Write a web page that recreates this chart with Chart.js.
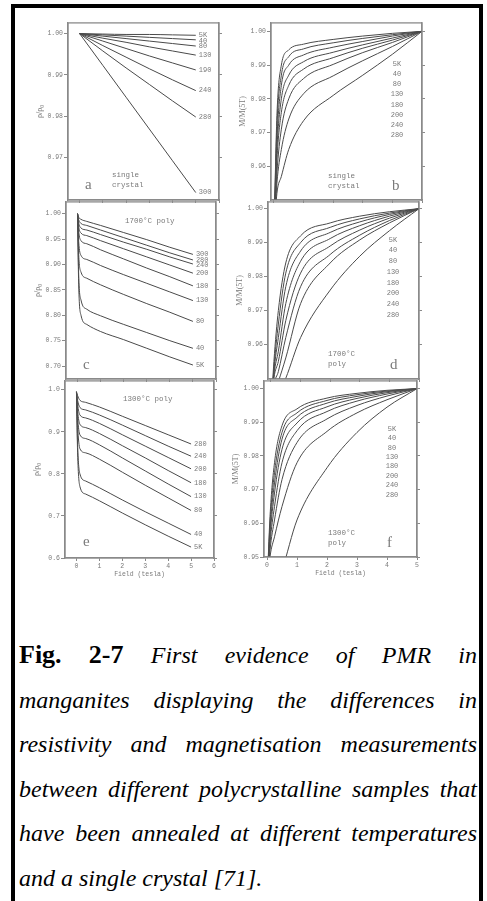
<!DOCTYPE html>
<html>
<head>
<meta charset="utf-8">
<script src="https://cdn.jsdelivr.net/npm/chart.js@4.4.0/dist/chart.umd.min.js"></script>
<style>
  body { margin: 0; background: #fff; width: 487px; height: 901px; overflow: hidden; position: relative; }
  .frame { position: absolute; left: 11px; top: 4px; width: 464px; height: 960px; border: 4px solid #000; border-bottom: none; }
  canvas.panel { position: absolute; filter: blur(0.35px); }
  .cap { position: absolute; left: 19px; width: 458px; top: 633px; font-family: "Liberation Serif", "Times New Roman", serif;
         font-size: 24px; line-height: 44.6px; font-style: italic; color: #000; }
  .cap .ln { text-align: justify; text-align-last: justify; }
  .cap .ln.last { text-align: left; text-align-last: left; }
  .cap b { font-style: normal; font-size: 26px; }
</style>
</head>
<body>
<div class="frame"></div>
<div class="cap">
  <div class="ln"><b>Fig.</b> <b>2-7</b> First evidence of PMR in</div>
  <div class="ln">manganites displaying the differences in</div>
  <div class="ln">resistivity and magnetisation measurements</div>
  <div class="ln">between different polycrystalline samples that</div>
  <div class="ln">have been annealed at different temperatures</div>
  <div class="ln last">and a single crystal [71].</div>
</div>

<script>
    const fieldA = [0, 1, 2, 3, 4, 5]
    const fieldPoly = [0, 0.05, 0.15, 0.4, 1, 2, 3, 4, 5]
    const fieldM = [0, 0.1, 0.25, 0.5, 1, 2, 3, 4, 5]

    const ticksLeftX = [0, 1, 2, 3, 4, 5, 6]
    const ticksRightX = [0, 1, 2, 3, 4, 5]

    // (a) single crystal, rho/rho0
    const tempsA = ['5K', '40', '80', '130', '190', '240', '280', '300']
    const rhoA = [
        [1.0000, 0.9999, 0.9998, 0.9998, 0.9997, 0.9996],
        [1.0000, 0.9997, 0.9994, 0.9991, 0.9988, 0.9985],
        [1.0000, 0.9994, 0.9988, 0.9982, 0.9976, 0.9970],
        [1.0000, 0.9989, 0.9979, 0.9968, 0.9958, 0.9948],
        [1.0000, 0.9982, 0.9964, 0.9946, 0.9929, 0.9912],
        [1.0000, 0.9971, 0.9943, 0.9915, 0.9888, 0.9862],
        [1.0000, 0.9958, 0.9917, 0.9877, 0.9837, 0.9798],
        [1.0000, 0.9923, 0.9846, 0.9769, 0.9692, 0.9615]
    ]
    const ticksA = [0.97, 0.98, 0.99, 1.00]

    // (b) single crystal, M/M(5T)
    const tempsB = ['5K', '40', '80', '130', '180', '200', '240', '280']
    const magB = [
        [0.940, 0.975, 0.990, 0.9945, 0.9962, 0.9976, 0.9986, 0.9994, 1.000],
        [0.940, 0.972, 0.987, 0.9925, 0.9948, 0.9966, 0.9979, 0.9990, 1.000],
        [0.940, 0.968, 0.984, 0.9900, 0.9930, 0.9953, 0.9970, 0.9986, 1.000],
        [0.940, 0.965, 0.980, 0.9870, 0.9910, 0.9938, 0.9960, 0.9980, 1.000],
        [0.940, 0.962, 0.976, 0.9840, 0.9888, 0.9922, 0.9950, 0.9974, 1.000],
        [0.940, 0.958, 0.971, 0.9800, 0.9860, 0.9902, 0.9937, 0.9967, 1.000],
        [0.940, 0.955, 0.965, 0.9740, 0.9815, 0.9868, 0.9913, 0.9955, 1.000],
        [0.940, 0.952, 0.957, 0.9650, 0.9735, 0.9810, 0.9870, 0.9932, 1.000]
    ]
    const ticksB = [0.96, 0.97, 0.98, 0.99, 1.00]

    // (c) 1700C poly, rho/rho0
    const tempsC = ['300', '280', '240', '200', '180', '130', '80', '40', '5K']
    const rhoC = [
        [1.000, 0.993, 0.989, 0.985, 0.977, 0.963, 0.949, 0.934, 0.920],
        [1.000, 0.988, 0.981, 0.977, 0.968, 0.953, 0.938, 0.923, 0.909],
        [1.000, 0.982, 0.972, 0.968, 0.959, 0.944, 0.930, 0.915, 0.901],
        [1.000, 0.975, 0.962, 0.957, 0.947, 0.931, 0.915, 0.899, 0.883],
        [1.000, 0.965, 0.947, 0.941, 0.929, 0.911, 0.893, 0.876, 0.858],
        [1.000, 0.945, 0.918, 0.910, 0.898, 0.880, 0.863, 0.846, 0.829],
        [1.000, 0.920, 0.885, 0.873, 0.860, 0.841, 0.823, 0.806, 0.788],
        [1.000, 0.880, 0.830, 0.812, 0.799, 0.782, 0.766, 0.750, 0.735],
        [1.000, 0.860, 0.800, 0.782, 0.768, 0.752, 0.735, 0.718, 0.702]
    ]
    const ticksC = [0.70, 0.75, 0.80, 0.85, 0.90, 0.95, 1.00]

    // (d) 1700C poly, M/M(5T)
    const tempsD = ['5K', '40', '80', '130', '180', '200', '240', '280']
    const magD = [
        [0.940, 0.955, 0.970, 0.984, 0.9920, 0.9958, 0.9978, 0.9991, 1.000],
        [0.940, 0.953, 0.966, 0.981, 0.9900, 0.9945, 0.9970, 0.9987, 1.000],
        [0.940, 0.952, 0.962, 0.977, 0.9875, 0.9930, 0.9961, 0.9983, 1.000],
        [0.940, 0.951, 0.958, 0.972, 0.9845, 0.9912, 0.9950, 0.9978, 1.000],
        [0.940, 0.950, 0.955, 0.967, 0.9810, 0.9890, 0.9937, 0.9972, 1.000],
        [0.940, 0.948, 0.952, 0.962, 0.9770, 0.9865, 0.9922, 0.9965, 1.000],
        [0.940, 0.945, 0.949, 0.956, 0.9720, 0.9840, 0.9908, 0.9958, 1.000],
        [0.940, 0.942, 0.945, 0.950, 0.9620, 0.9760, 0.9860, 0.9935, 1.000]
    ]
    const ticksD = [0.96, 0.97, 0.98, 0.99, 1.00]

    // (e) 1300C poly, rho/rho0
    const tempsE = ['280', '240', '200', '180', '130', '80', '40', '5K']
    const rhoE = [
        [0.995, 0.986, 0.975, 0.970, 0.959, 0.937, 0.915, 0.893, 0.871],
        [0.995, 0.975, 0.958, 0.952, 0.940, 0.916, 0.891, 0.866, 0.842],
        [0.995, 0.965, 0.940, 0.933, 0.920, 0.893, 0.866, 0.839, 0.812],
        [0.995, 0.950, 0.918, 0.910, 0.896, 0.867, 0.838, 0.808, 0.779],
        [0.995, 0.935, 0.893, 0.884, 0.869, 0.838, 0.807, 0.776, 0.746],
        [0.995, 0.915, 0.860, 0.850, 0.835, 0.804, 0.773, 0.743, 0.713],
        [0.995, 0.870, 0.800, 0.783, 0.767, 0.738, 0.710, 0.683, 0.656],
        [0.995, 0.850, 0.770, 0.752, 0.736, 0.707, 0.679, 0.652, 0.626]
    ]
    const ticksE = [0.6, 0.7, 0.8, 0.9, 1.0]

    // (f) 1300C poly, M/M(5T)
    const tempsF = ['5K', '40', '80', '130', '180', '200', '240', '280']
    const magF = [
        [0.940, 0.962, 0.978, 0.989, 0.9940, 0.9972, 0.9986, 0.9995, 1.000],
        [0.940, 0.960, 0.975, 0.987, 0.9928, 0.9965, 0.9982, 0.9993, 1.000],
        [0.940, 0.958, 0.972, 0.985, 0.9915, 0.9957, 0.9977, 0.9991, 1.000],
        [0.940, 0.956, 0.969, 0.982, 0.9898, 0.9946, 0.9971, 0.9988, 1.000],
        [0.940, 0.954, 0.965, 0.978, 0.9875, 0.9932, 0.9963, 0.9984, 1.000],
        [0.940, 0.952, 0.961, 0.973, 0.9840, 0.9910, 0.9950, 0.9978, 1.000],
        [0.940, 0.950, 0.956, 0.965, 0.9780, 0.9873, 0.9928, 0.9967, 1.000],
        [0.930, 0.935, 0.940, 0.946, 0.9610, 0.9765, 0.9870, 0.9945, 1.000]
    ]
    const ticksF = [0.95, 0.96, 0.97, 0.98, 0.99, 1.00]

    const lineColor = '#4a4a4a'
    const axisColor = '#8a8a8a'
    const textColor = '#7a7a7a'
    const monoFont = '"Liberation Mono", "DejaVu Sans Mono", monospace'

    // draws frame, temperature labels and the little notes in a panel
    function textPlugin(cfg) {
        return {
            id: 'panelText',
            afterDraw(chart) {
                const ctx = chart.ctx
                const area = chart.chartArea
                const xs = chart.scales.x
                const ys = chart.scales.y
                ctx.save()
                ctx.strokeStyle = axisColor
                ctx.lineWidth = 1.3
                ctx.strokeRect(area.left, area.top, area.right - area.left, area.bottom - area.top)
                ctx.fillStyle = textColor
                ctx.font = '7px ' + monoFont
                ctx.textBaseline = 'middle'
                if (cfg.labelCol) {
                    ctx.textAlign = 'center'
                    cfg.temps.forEach((t, i) => {
                        ctx.fillText(t, area.left + cfg.labelCol.dx, area.top + cfg.labelCol.dy + i * cfg.labelCol.step)
                    })
                } else {
                    let ends = cfg.series.map((s, i) => ({ t: cfg.temps[i], y: ys.getPixelForValue(s[s.length - 1]) }))
                    ends.sort((p, q) => p.y - q.y)
                    for (let i = 1; i < ends.length; i++) {
                        if (ends[i].y < ends[i - 1].y + 5.5) ends[i].y = ends[i - 1].y + 5.5
                    }
                    const lx = xs.getPixelForValue(cfg.x[cfg.x.length - 1]) + 3
                    ctx.textAlign = 'left'
                    ends.forEach(p => ctx.fillText(p.t, lx, p.y))
                }
                ctx.textAlign = 'left'
                ctx.font = '7.5px ' + monoFont
                cfg.notes.forEach(n => ctx.fillText(n.t, area.left + n.dx, area.top + n.dy))
                ctx.font = '15px "Liberation Serif", serif'
                ctx.textBaseline = 'alphabetic'
                ctx.fillText(cfg.letter.t, area.left + cfg.letter.dx, area.top + cfg.letter.dy)
                ctx.restore()
            }
        }
    }

    function panel(box, cfg) {
        const YW = 36, RW = 5, TP = 3
        const XH = cfg.bottom ? 22 : 5
        const cv = document.createElement('canvas')
        cv.className = 'panel'
        cv.width = box.r - box.l + YW + RW
        cv.height = box.b - box.t + TP + XH
        cv.style.left = (box.l - YW) + 'px'
        cv.style.top = (box.t - TP) + 'px'
        document.body.appendChild(cv)

        const datasets = cfg.series.map((vals, i) => ({
            label: cfg.temps[i],
            data: cfg.x.map((x, j) => ({ x: x, y: vals[j] })),
            borderColor: lineColor,
            borderWidth: 1,
            pointRadius: 0,
            fill: false,
            cubicInterpolationMode: 'monotone'
        }))
        const tickFont = { family: monoFont, size: 6.5 }
        new Chart(cv, {
            type: 'line',
            data: { datasets: datasets },
            options: {
                responsive: false,
                animation: false,
                devicePixelRatio: 1,
                layout: { padding: { top: TP, left: 0, right: 0, bottom: 0 } },
                plugins: { legend: { display: false }, tooltip: { enabled: false } },
                scales: {
                    x: {
                        type: 'linear',
                        min: cfg.xMin,
                        max: cfg.xMax,
                        afterBuildTicks: s => { s.ticks = cfg.xTicks.map(v => ({ value: v })) },
                        afterFit: s => { s.height = XH },
                        grid: { drawOnChartArea: false, tickLength: 3, color: axisColor },
                        border: { color: axisColor, width: 1.3 },
                        ticks: { display: !!cfg.bottom, font: tickFont, color: textColor, padding: 1, maxRotation: 0, autoSkip: false },
                        title: { display: !!cfg.bottom, text: 'Field (tesla)', font: tickFont, color: textColor, padding: { top: 0, bottom: 2 } }
                    },
                    y: {
                        min: cfg.yMin,
                        max: cfg.yMax,
                        afterBuildTicks: s => { s.ticks = cfg.yTicks.map(v => ({ value: v })) },
                        afterFit: s => { s.width = YW },
                        grid: { drawOnChartArea: false, tickLength: 4, color: axisColor },
                        border: { color: axisColor, width: 1.3 },
                        ticks: { font: tickFont, color: textColor, padding: 1, callback: v => v.toFixed(cfg.yDec) },
                        title: { display: true, text: cfg.yTitle, font: { family: '"Liberation Serif", serif', size: 8 }, color: textColor, padding: { top: 3, bottom: 0 } }
                    },
                    yr: {
                        position: 'right',
                        min: cfg.yMin,
                        max: cfg.yMax,
                        afterBuildTicks: s => { s.ticks = cfg.yTicks.map(v => ({ value: v })) },
                        afterFit: s => { s.width = RW },
                        grid: { drawOnChartArea: false, tickLength: 3, color: axisColor },
                        border: { color: axisColor, width: 1.3 },
                        ticks: { display: false }
                    }
                }
            },
            plugins: [textPlugin(cfg)]
        })
    }

    const rhoTitle = 'ρ/ρ₀'
    const magTitle = 'M/M(5T)'

    panel({ l: 68, r: 219, t: 21, b: 200 }, {
        x: fieldA, series: rhoA, temps: tempsA, xMin: -0.5, xMax: 6, xTicks: ticksLeftX,
        yMin: 0.9597, yMax: 1.0026, yTicks: ticksA, yDec: 2, yTitle: rhoTitle,
        notes: [{ t: 'single', dx: 44, dy: 152 }, { t: 'crystal', dx: 44, dy: 162 }],
        letter: { t: 'a', dx: 17, dy: 166 }
    })
    panel({ l: 66, r: 216, t: 200, b: 379 }, {
        x: fieldPoly, series: rhoC, temps: tempsC, xMin: -0.5, xMax: 6, xTicks: ticksLeftX,
        yMin: 0.6745, yMax: 1.0234, yTicks: ticksC, yDec: 2, yTitle: rhoTitle,
        notes: [{ t: '1700°C poly', dx: 59, dy: 19 }],
        letter: { t: 'c', dx: 17, dy: 167 }
    })
    panel({ l: 65, r: 214, t: 379, b: 558 }, {
        x: fieldPoly, series: rhoE, temps: tempsE, xMin: -0.5, xMax: 6, xTicks: ticksLeftX,
        yMin: 0.6, yMax: 1.021, yTicks: ticksE, yDec: 1, yTitle: rhoTitle, bottom: true,
        notes: [{ t: '1300°C poly', dx: 58, dy: 18 }],
        letter: { t: 'e', dx: 18, dy: 165 }
    })
    panel({ l: 271, r: 422, t: 21, b: 200 }, {
        x: fieldM, series: magB, temps: tempsB, xMin: -0.1, xMax: 5, xTicks: ticksRightX,
        yMin: 0.95, yMax: 1.0025, yTicks: ticksB, yDec: 2, yTitle: magTitle,
        labelCol: { dx: 126, dy: 41, step: 10.2 },
        notes: [{ t: 'single', dx: 57, dy: 153 }, { t: 'crystal', dx: 57, dy: 163 }],
        letter: { t: 'b', dx: 121, dy: 167 }
    })
    panel({ l: 268, r: 419, t: 200, b: 379 }, {
        x: fieldM, series: magD, temps: tempsD, xMin: -0.1, xMax: 5, xTicks: ticksRightX,
        yMin: 0.9498, yMax: 1.002, yTicks: ticksD, yDec: 2, yTitle: magTitle,
        labelCol: { dx: 125, dy: 38, step: 10.7 },
        notes: [{ t: '1700°C', dx: 60, dy: 152 }, { t: 'poly', dx: 60, dy: 162 }],
        letter: { t: 'd', dx: 122, dy: 167 }
    })
    panel({ l: 264, r: 417, t: 379, b: 557 }, {
        x: fieldM, series: magF, temps: tempsF, xMin: -0.1, xMax: 5, xTicks: ticksRightX,
        yMin: 0.95, yMax: 1.0023, yTicks: ticksF, yDec: 2, yTitle: magTitle, bottom: true,
        labelCol: { dx: 128, dy: 48, step: 9.4 },
        notes: [{ t: '1300°C', dx: 64, dy: 152 }, { t: 'poly', dx: 64, dy: 162 }],
        letter: { t: 'f', dx: 123, dy: 166 }
    })
</script>
</body>
</html>
